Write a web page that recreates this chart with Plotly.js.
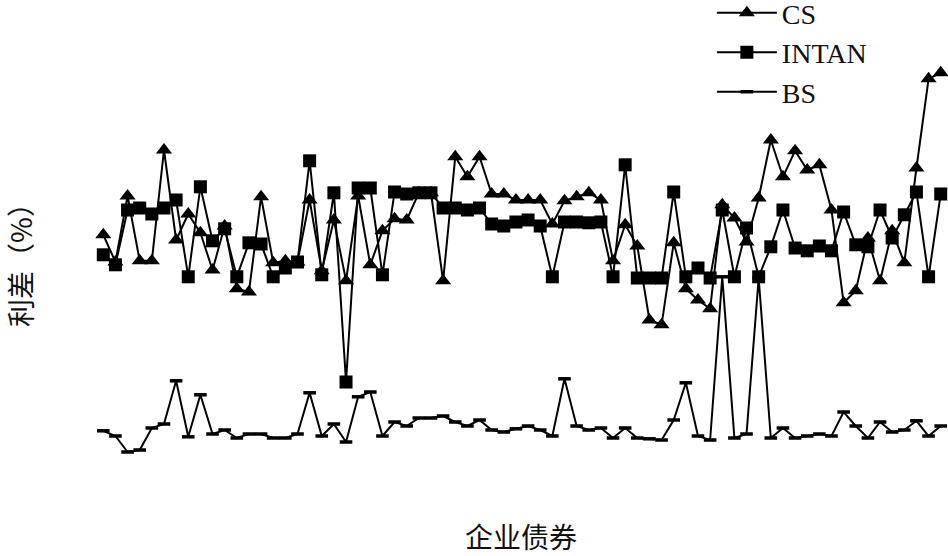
<!DOCTYPE html>
<html>
<head>
<meta charset="utf-8">
<script src="https://cdn.plot.ly/plotly-3.0.1.min.js"></script>
<style>html,body{margin:0;padding:0;background:#fff;}#chart{width:948px;height:556px;}</style>
</head>
<body>
<div id="chart"></div>
<script>
// 企业债券序号
const bondIndex = Array.from({length: 70}, (_, i) => i + 1);

// 利差（%）
const csValues = [5.88, 5.20, 6.85, 5.23, 5.23, 8.00, 5.75, 6.40, 5.93, 5.00,
  6.10, 4.53, 4.45, 6.83, 5.18, 5.23, 5.20, 6.75, 4.98, 6.25,
  4.73, 6.85, 5.13, 5.98, 6.28, 6.25, 6.93, 6.93, 4.73, 7.83,
  7.33, 7.83, 6.90, 6.90, 6.75, 6.75, 6.75, 6.15, 6.73, 6.83,
  6.93, 6.75, 5.23, 6.13, 5.60, 3.75, 3.63, 5.68, 4.53, 4.25,
  4.03, 6.63, 6.30, 5.70, 6.80, 8.25, 7.33, 7.98, 7.50, 7.63,
  6.50, 4.18, 4.48, 5.80, 4.73, 5.98, 5.18, 7.55, 9.78, 9.93];

const intanValues = [5.38, 5.13, 6.50, 6.55, 6.40, 6.55, 6.75, 4.83, 7.08, 5.73,
  6.03, 4.83, 5.68, 5.65, 4.83, 5.05, 5.20, 7.73, 4.88, 6.93,
  2.20, 7.05, 7.05, 4.88, 6.95, 6.90, 6.93, 6.93, 6.55, 6.55,
  6.50, 6.55, 6.15, 6.10, 6.20, 6.25, 6.10, 4.83, 6.20, 6.20,
  6.18, 6.20, 4.83, 7.63, 4.80, 4.80, 4.80, 6.95, 4.83, 5.05,
  4.80, 6.50, 4.83, 6.05, 4.83, 5.58, 6.50, 5.55, 5.48, 5.60,
  5.48, 6.45, 5.63, 5.58, 6.50, 5.80, 6.38, 6.95, 4.83, 6.90];

const bsValues = [0.98, 0.85, 0.45, 0.50, 1.05, 1.15, 2.23, 0.83, 1.88, 0.90,
  1.00, 0.80, 0.90, 0.90, 0.80, 0.80, 0.90, 1.93, 0.85, 1.15,
  0.70, 1.83, 1.95, 0.85, 1.20, 1.10, 1.30, 1.30, 1.35, 1.20,
  1.10, 1.25, 1.00, 0.95, 1.03, 1.10, 1.00, 0.85, 2.28, 1.10,
  1.00, 1.05, 0.80, 1.05, 0.80, 0.78, 0.75, 1.25, 2.18, 0.85,
  0.75, 4.83, 0.80, 0.90, 4.80, 0.80, 1.05, 0.80, 0.85, 0.90,
  0.85, 1.45, 1.10, 0.80, 1.20, 0.95, 1.00, 1.23, 0.85, 1.10];

const seriesNames = ["CS", "INTAN", "BS"];
const xTitle = "企业债券";
const yTitle = "利差（%）";

const traces = [
  {
    x: bondIndex, y: csValues, name: seriesNames[0], type: "scatter", mode: "lines+markers",
    line: {color: "#000", width: 2},
    marker: {symbol: "triangle-up", size: 14, color: "#000"}
  },
  {
    x: bondIndex, y: intanValues, name: seriesNames[1], type: "scatter", mode: "lines+markers",
    line: {color: "#000", width: 2},
    marker: {symbol: "square", size: 13, color: "#000"}
  },
  {
    x: bondIndex, y: bsValues, name: seriesNames[2], type: "scatter", mode: "lines+markers",
    line: {color: "#000", width: 2},
    marker: {symbol: "line-ew", size: 9, color: "#000", line: {color: "#000", width: 3.5}}
  }
];

const layout = {
  width: 948, height: 556,
  margin: {l: 94, r: 0, t: 16, b: 56, autoexpand: false},
  paper_bgcolor: "#fff", plot_bgcolor: "#fff",
  showlegend: true,
  legend: {
    x: 0.7235, y: 1.0575, xanchor: "left", yanchor: "top",
    bgcolor: "rgba(0,0,0,0)", borderwidth: 0,
    itemwidth: 60,
    font: {family: "Liberation Serif, serif", size: 28, color: "#111"}
  },
  xaxis: {
    range: [0.234, 70.6],
    showgrid: false, zeroline: false, showline: false, showticklabels: false, ticks: "",
    title: {text: xTitle, font: {family: "Noto Sans CJK SC, sans-serif", size: 28, color: "#111"}, standoff: 44}
  },
  yaxis: {
    range: [-0.75, 11.35],
    showgrid: false, zeroline: false, showline: false, showticklabels: false, ticks: "",
    title: {text: yTitle, font: {family: "Noto Sans CJK SC, sans-serif", size: 28, color: "#111"}, standoff: 56}
  }
};

Plotly.newPlot("chart", traces, layout, {displayModeBar: false, staticPlot: true});
</script>
</body>
</html>
